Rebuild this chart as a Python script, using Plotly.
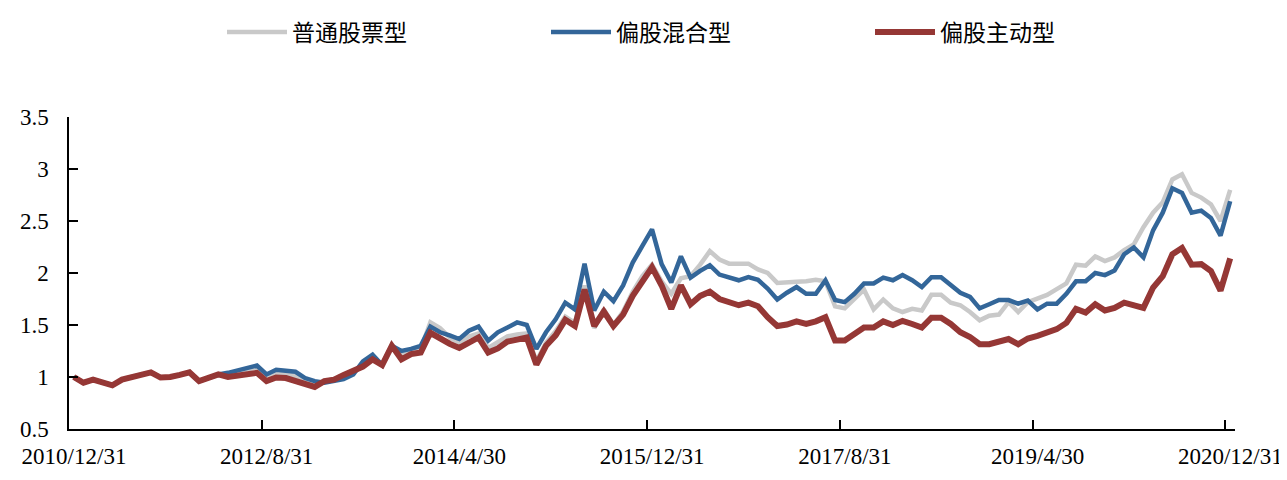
import pandas as pd
import plotly.graph_objects as go

# Month-end dates from 2010/12/31 to 2020/12/31
dates = pd.date_range("2010-12-31", "2020-12-31", freq="ME")
months = [f"{d.year}/{d.month}/{d.day}" for d in dates]

series_names = ["普通股票型", "偏股混合型", "偏股主动型"]

gray_vals = [
    1.00, 0.945, 0.975, 0.95, 0.92, 0.975, 1.00, 1.02, 1.045, 0.995,
    1.00, 1.02, 1.045, 0.96, 0.99, 1.02, 1.035, 1.05, 1.07, 1.09,
    1.00, 1.04, 1.03, 1.01, 0.97, 0.93, 0.96, 0.975, 1.00, 1.04,
    1.12, 1.19, 1.115, 1.30, 1.22, 1.25, 1.27, 1.525, 1.47, 1.38,
    1.33, 1.39, 1.42, 1.28, 1.33, 1.39, 1.41, 1.42, 1.15, 1.33,
    1.44, 1.58, 1.52, 1.88, 1.47, 1.65, 1.50, 1.63, 1.82, 1.97,
    2.08, 1.92, 1.80, 1.95, 1.97, 2.08, 2.21, 2.13, 2.09, 2.09,
    2.09, 2.035, 2.00, 1.905, 1.915, 1.915, 1.92, 1.935, 1.92, 1.68,
    1.66, 1.745, 1.84, 1.65, 1.745, 1.66, 1.625, 1.655, 1.64, 1.79,
    1.79, 1.715, 1.69, 1.625, 1.545, 1.59, 1.60, 1.72, 1.625, 1.72,
    1.755, 1.79, 1.845, 1.90, 2.08, 2.07, 2.16, 2.115, 2.15, 2.22,
    2.275, 2.44, 2.58, 2.68, 2.90, 2.95, 2.77, 2.725, 2.66, 2.50,
    2.80,
]

blue_vals = [
    1.00, 0.945, 0.975, 0.95, 0.92, 0.975, 1.00, 1.02, 1.045, 0.995,
    1.00, 1.02, 1.045, 0.96, 0.99, 1.025, 1.04, 1.06, 1.08, 1.11,
    1.025, 1.07, 1.06, 1.05, 0.99, 0.96, 0.945, 0.96, 0.98, 1.025,
    1.15, 1.215, 1.115, 1.30, 1.25, 1.27, 1.30, 1.485, 1.43, 1.40,
    1.365, 1.445, 1.485, 1.35, 1.43, 1.475, 1.525, 1.50, 1.27, 1.43,
    1.555, 1.715, 1.65, 2.09, 1.64, 1.82, 1.73, 1.88, 2.10, 2.26,
    2.42, 2.085, 1.91, 2.16, 1.955, 2.02, 2.075, 1.985, 1.96, 1.93,
    1.96, 1.935, 1.85, 1.745, 1.81, 1.865, 1.80, 1.80, 1.93, 1.74,
    1.72, 1.80, 1.90, 1.90, 1.955, 1.93, 1.98, 1.93, 1.865, 1.96,
    1.96, 1.885, 1.81, 1.77, 1.66, 1.70, 1.74, 1.74, 1.705, 1.735,
    1.65, 1.705, 1.705, 1.80, 1.92, 1.92, 2.00, 1.98, 2.025, 2.18,
    2.245, 2.15, 2.41, 2.58, 2.815, 2.77, 2.58, 2.60, 2.53, 2.36,
    2.69,
]

red_vals = [
    1.00, 0.945, 0.975, 0.95, 0.92, 0.975, 1.00, 1.02, 1.045, 0.995,
    1.00, 1.02, 1.045, 0.96, 0.99, 1.025, 1.00, 1.015, 1.03, 1.04,
    0.96, 0.995, 0.99, 0.965, 0.935, 0.905, 0.96, 0.975, 1.02, 1.06,
    1.10, 1.17, 1.115, 1.30, 1.17, 1.22, 1.235, 1.425, 1.37, 1.32,
    1.28, 1.33, 1.38, 1.235, 1.275, 1.34, 1.36, 1.38, 1.12, 1.30,
    1.40, 1.55, 1.49, 1.84, 1.49, 1.63, 1.49, 1.60, 1.78, 1.93,
    2.055, 1.88, 1.655, 1.88, 1.70, 1.78, 1.82, 1.75, 1.715, 1.69,
    1.715, 1.68, 1.575, 1.49, 1.505, 1.535, 1.51, 1.535, 1.575, 1.35,
    1.35, 1.41, 1.475, 1.475, 1.535, 1.50, 1.54, 1.51, 1.475, 1.57,
    1.57, 1.51, 1.43, 1.385, 1.315, 1.315, 1.34, 1.365, 1.315, 1.37,
    1.395, 1.43, 1.46, 1.52, 1.655, 1.62, 1.70, 1.64, 1.665, 1.715,
    1.69, 1.665, 1.86, 1.97, 2.18, 2.24, 2.08, 2.085, 2.02, 1.83,
    2.14,
]

colors = ["#C9C9C9", "#336699", "#953735"]
widths = [4.5, 4.5, 6]

x_idx = list(range(len(months)))
label_step = 20
tick_pos = [i - 0.5 for i in range(0, len(months), label_step)]
tick_txt = [months[i] for i in range(0, len(months), label_step)]

fig = go.Figure()
for name, vals, c, w in zip(series_names, [gray_vals, blue_vals, red_vals], colors, widths):
    fig.add_trace(go.Scatter(
        x=x_idx, y=vals, mode="lines", name=name,
        line=dict(color=c, width=w, shape="linear"),
        hovertext=months,
    ))

axis_font = dict(family="Liberation Serif, Times New Roman, serif", size=23, color="#000000")

fig.update_layout(
    width=1287, height=480,
    margin=dict(l=59, r=54, t=109, b=59),
    plot_bgcolor="white", paper_bgcolor="white",
    showlegend=True,
    legend=dict(
        orientation="h",
        xref="container", yref="container",
        x=214 / 1287, y=1 - 24 / 480,
        xanchor="left", yanchor="middle",
        font=dict(family="Noto Sans CJK SC", size=23, color="#000000"),
        entrywidth=249, entrywidthmode="pixels",
        itemwidth=60,
        bgcolor="rgba(0,0,0,0)",
    ),
    xaxis=dict(
        range=[-0.5, len(months) - 0.5],
        tickmode="array", tickvals=tick_pos, ticktext=tick_txt,
        ticks="inside", ticklen=9, tickwidth=1.5, tickcolor="#000000",
        ticklabelshift=5,
        showline=True, linecolor="#000000", linewidth=1.5,
        showgrid=False, zeroline=False,
        tickfont=axis_font,
        ticklabelstandoff=6,
    ),
    yaxis=dict(
        range=[0.5, 3.5], tick0=0.5, dtick=0.5,
        ticks="inside", ticklen=9, tickwidth=1.5, tickcolor="#000000",
        showline=True, linecolor="#000000", linewidth=1.5,
        showgrid=False, zeroline=False,
        tickfont=axis_font,
        ticklabelstandoff=14,
    ),
)

fig.write_html("out.html")
